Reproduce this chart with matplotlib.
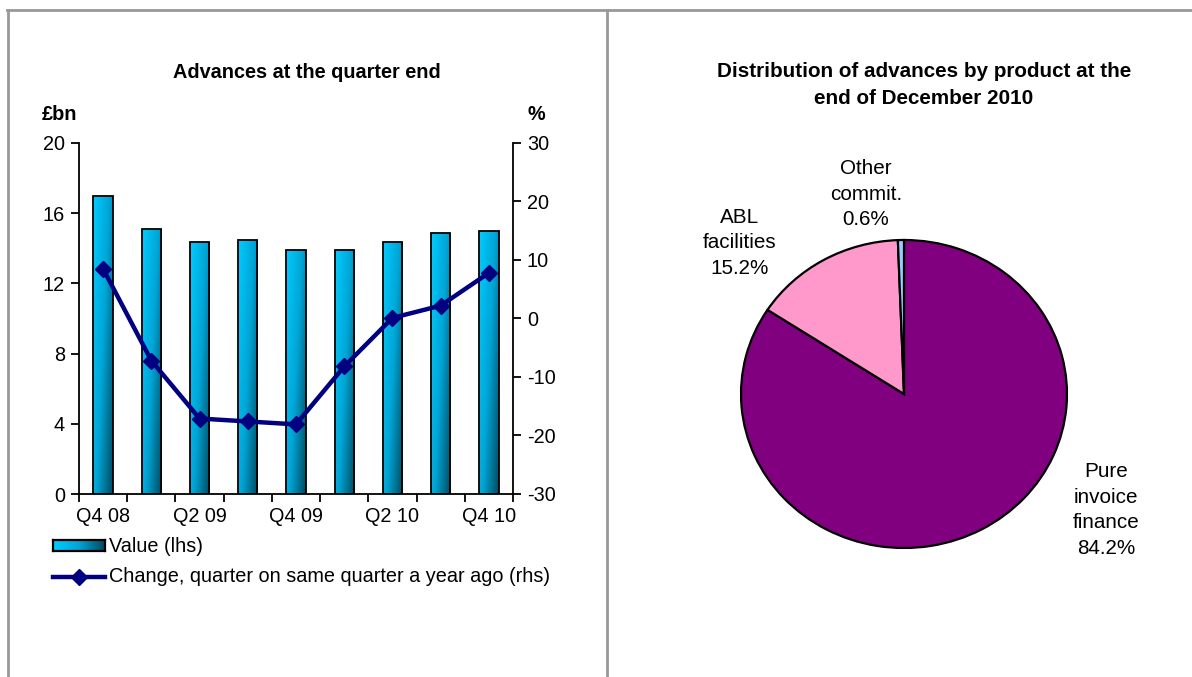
import numpy as np
import matplotlib
matplotlib.use("Agg")
import matplotlib.pyplot as plt
from matplotlib.colors import LinearSegmentedColormap
from matplotlib.lines import Line2D

plt.rcParams['font.family'] = ['Liberation Sans', 'DejaVu Sans']
plt.rcParams['axes.unicode_minus'] = False

# ---- data ----
quarters = ["Q4 08", "Q1 09", "Q2 09", "Q3 09", "Q4 09", "Q1 10", "Q2 10", "Q3 10", "Q4 10"]
tick_labels = ["Q4 08", "", "Q2 09", "", "Q4 09", "", "Q2 10", "", "Q4 10"]
advances_value = [17.0, 15.08, 14.35, 14.5, 13.9, 13.88, 14.35, 14.85, 14.98]
advances_change = [8.5, -7.2, -17.1, -17.6, -18.1, -8.2, 0.1, 2.2, 7.8]

pie_labels = ["Pure\ninvoice\nfinance", "ABL\nfacilities", "Other\ncommit."]
pie_values = [84.2, 15.2, 0.6]
pie_colors = ["#800080", "#FF99CC", "#99CCFF"]

W, H = 1192, 677
FS = 14.3
PFS = 14.9
fig = plt.figure(figsize=(W / 100, H / 100), dpi=100)

# ---- panel borders ----
border = "#999999"
fig.add_artist(Line2D([7 / W, 1.0], [1 - 10 / H, 1 - 10 / H], color=border, lw=2))
fig.add_artist(Line2D([8 / W, 8 / W], [0, 1 - 10 / H], color=border, lw=2))
fig.add_artist(Line2D([607 / W, 607 / W], [0, 1 - 10 / H], color=border, lw=2))

# ---- left chart ----
AX_L, AX_R, AX_T, AX_B = 79, 513, 143, 494
ax = fig.add_axes([AX_L / W, 1 - AX_B / H, (AX_R - AX_L) / W, (AX_B - AX_T) / H])
x = np.arange(len(quarters))
bars = ax.bar(x, advances_value, width=0.4, color="none", edgecolor="black", lw=1.3, zorder=3)

cmap = LinearSegmentedColormap.from_list("g", ["#00CCFF", "#00A5D6", "#004A60"])
gx, gy = np.meshgrid(np.linspace(0, 1, 50), np.linspace(0, 1, 200))
grad = 0.6 * gx + 0.4 * gy
for b in bars:
    x0, y0, w, h = b.get_x(), b.get_y(), b.get_width(), b.get_height()
    im = ax.imshow(grad, cmap=cmap, extent=[x0, x0 + w, y0, y0 + h], origin="upper",
                   aspect="auto", zorder=2, vmin=0, vmax=1)
    im.set_clip_path(b)

ax.set_xlim(-0.5, len(quarters) - 0.5)
ax.set_ylim(0, 20)
ax.set_yticks([0, 4, 8, 12, 16, 20])
ax.set_xticks(np.arange(-0.5, len(quarters), 1.0))
ax.set_xticklabels([])
ax.set_xticks(x, minor=True)
ax.set_xticklabels(tick_labels, minor=True)
ax.tick_params(axis="x", which="major", direction="out", length=6, width=1.3)
ax.tick_params(axis="x", which="minor", length=0, pad=9, labelsize=FS)
ax.tick_params(axis="y", direction="out", length=6, width=1.3, labelsize=FS, pad=4)
ax.spines["top"].set_visible(False)
ax.spines["right"].set_visible(False)
for s in ["left", "bottom"]:
    ax.spines[s].set_linewidth(1.3)

ax2 = ax.twinx()
ax2.plot(x, advances_change, color="#000080", lw=3.2, marker="D", ms=8.5, zorder=4)
ax2.set_ylim(-30, 30)
ax2.set_yticks([-30, -20, -10, 0, 10, 20, 30])
ax2.tick_params(axis="y", direction="out", length=6, width=1.3, labelsize=FS, pad=4)
for s in ["top", "left", "bottom"]:
    ax2.spines[s].set_visible(False)
ax2.spines["right"].set_linewidth(1.3)
ax.set_zorder(1)
ax2.set_zorder(2)

fig.text(307 / W, 1 - 72 / H, "Advances at the quarter end", ha="center", va="center",
         fontsize=FS, fontweight="bold")
fig.text(42 / W, 1 - 115 / H, "£bn", ha="left", va="center", fontsize=FS, fontweight="bold")
fig.text(527 / W, 1 - 115 / H, "%", ha="left", va="center", fontsize=FS, fontweight="bold")

# legend (manual)
lx0, lx1 = 53 / W, 105 / W
rect_ax = fig.add_axes([lx0, 1 - 551 / H, lx1 - lx0, 11 / H])
rect_ax.imshow(np.linspace(0, 1, 50)[None, :], cmap=cmap, aspect="auto", extent=[0, 1, 0, 1])
rect_ax.set_xticks([]); rect_ax.set_yticks([])
for s in rect_ax.spines.values():
    s.set_linewidth(1.6)
fig.text(109 / W, 1 - 546 / H, "Value (lhs)", ha="left", va="center", fontsize=FS)
fig.add_artist(Line2D([lx0, lx1], [1 - 577 / H] * 2, color="#000080", lw=3.2))
fig.add_artist(Line2D([(lx0 + lx1) / 2], [1 - 577 / H], color="#000080", marker="D", ms=8))
fig.text(109 / W, 1 - 577 / H, "Change, quarter on same quarter a year ago (rhs)",
         ha="left", va="center", fontsize=FS)

# ---- pie chart ----
cx, cy, rx, ry = 904, 394, 163, 154
pax = fig.add_axes([(cx - 1.25 * rx) / W, (H - cy - 1.25 * ry) / H, 2.5 * rx / W, 2.5 * ry / H])
pax.pie(pie_values, colors=pie_colors, startangle=90, counterclock=False,
        wedgeprops=dict(edgecolor="black", linewidth=1.6))
pax.set_aspect("auto")
pax.set_xlim(-1.25, 1.25)
pax.set_ylim(-1.25, 1.25)

label_pos = [((1106 - cx) / rx, (cy - 510) / ry),
             ((740 - cx) / rx, (cy - 243) / ry),
             ((866 - cx) / rx, (cy - 194) / ry)]
for lab, val, (px, py) in zip(pie_labels, pie_values, label_pos):
    pax.text(px, py, f"{lab}\n{val:.1f}%", ha="center", va="center", fontsize=PFS,
             linespacing=1.45)

fig.text(924 / W, 1 - 85 / H, "Distribution of advances by product at the\nend of December 2010",
         ha="center", va="center", fontsize=PFS, fontweight="bold", linespacing=1.55)

fig.savefig("out.png", dpi=100)
